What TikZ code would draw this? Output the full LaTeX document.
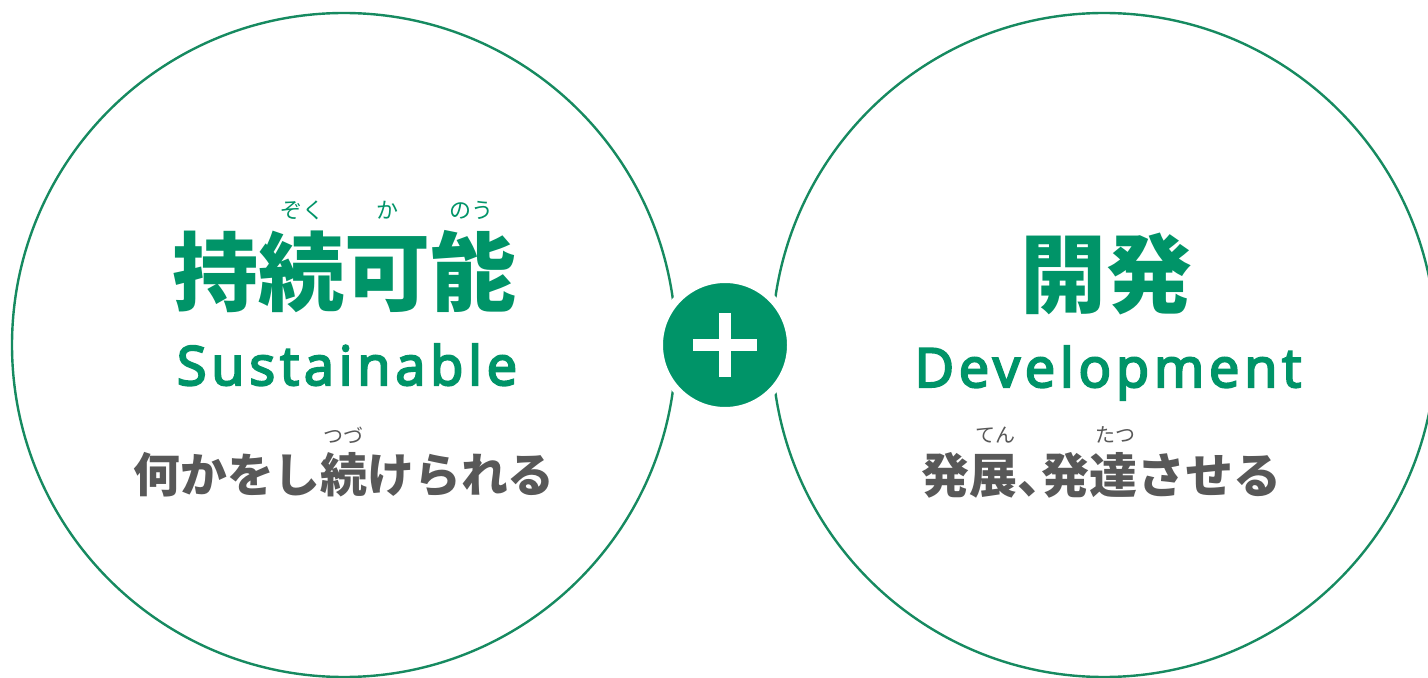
\documentclass[tikz,border=0pt]{standalone}
\usepackage{fontspec}
\newfontfamily\jp{Noto Sans CJK JP}
\newfontfamily\lat[FakeBold=4,LetterSpace=9]{Open Sans}
\definecolor{sgreen}{RGB}{0,148,104}
\definecolor{lgreen}{RGB}{22,138,96}
\definecolor{tgray}{RGB}{88,88,88}
\begin{document}
\begin{tikzpicture}[x=0.5pt,y=-0.5pt,
  ring/.style={draw=lgreen,line width=1.2pt,fill=white},
  big/.style={font=\jp\bfseries\fontsize{43}{43}\selectfont,text=sgreen,inner sep=0pt},
  eng/.style={font=\lat\fontsize{27}{27}\selectfont,text=sgreen,inner sep=0pt,anchor=base},
  rubyg/.style={font=\jp\fontsize{11}{11}\selectfont,text=sgreen,inner sep=0pt},
  rubyk/.style={font=\jp\fontsize{10}{10}\selectfont,text=tgray,inner sep=0pt},
  desc/.style={font=\jp\bfseries\fontsize{23.4}{23.4}\selectfont,text=tgray,inner sep=0pt}]
\useasboundingbox (0,0) rectangle (1428,678);
\clip (0,0) rectangle (1428,678);
\node[ring,circle,minimum size=664pt*0.5,inner sep=0pt] (lc) at (344,345) {};
\node[ring,circle,minimum size=664pt*0.5,inner sep=0pt] (rc) at (1104,345) {};
\node[circle,fill=sgreen,draw=white,line width=4pt,minimum size=132pt*0.5,inner sep=0pt] (plus) at (725,345) {};
\fill[white] ([xshift=-32*0.5pt,yshift=-6*0.5pt]plus.center) rectangle ([xshift=32*0.5pt,yshift=6*0.5pt]plus.center);
\fill[white] ([xshift=-6*0.5pt,yshift=-32*0.5pt]plus.center) rectangle ([xshift=6*0.5pt,yshift=32*0.5pt]plus.center);
% left
\node[big] (lt) at (344,272) {持続可能};
\node[rubyg] (r1) at (302,210) {ぞく};
\node[rubyg] (r2) at (387,210) {か};
\node[rubyg] (r3) at (471,210) {のう};
\node[eng] (le) at (347,385) {Sustainable};
\node[rubyk] (r4) at (343,435) {つづ};
\node[desc] (ld) at (344,475) {何かをし続けられる};
% right
\node[big] (rt) at (1106,274) {開発};
\node[eng] (re) at (1108,387) {Development};
\node[rubyk] (r5) at (995,435) {てん};
\node[rubyk] (r6) at (1115,435) {たつ};
\node[desc,font=\jp\bfseries\fontsize{24}{24}\selectfont] (rd) at (1101,475) {発展、\kern-0.5em 発達させる};
\end{tikzpicture}
\end{document}
